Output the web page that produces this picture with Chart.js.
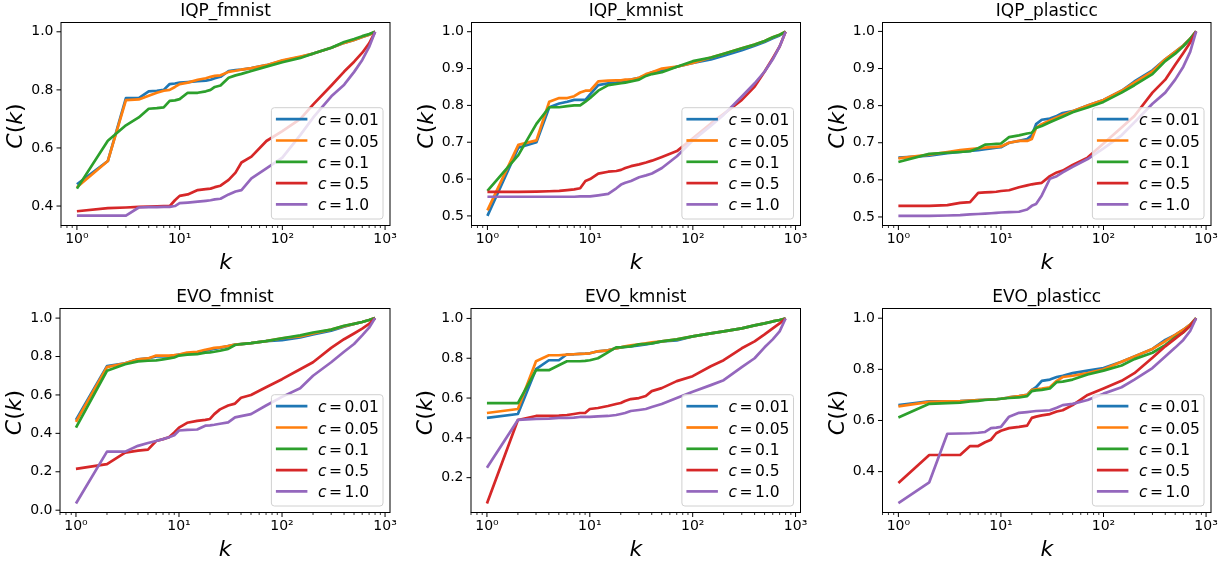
<!DOCTYPE html>
<html>
<head>
<meta charset="utf-8">
<script src="https://cdn.jsdelivr.net/npm/chart.js@4.4.0/dist/chart.umd.min.js"></script>
<style>
  html, body { margin: 0; padding: 0; background: #fff; }
  #wrap { position: relative; width: 1229px; height: 564px; }
  #wrap canvas { position: absolute; left: 0; top: 0; }
</style>
</head>
<body>
<div id="wrap"></div>
<script>
// k values where the curves are sampled
const K = [1, 2, 3, 4, 5, 6, 7, 8, 9, 10, 12, 15, 18, 20, 22, 25, 30, 35, 40, 50, 70, 100, 150, 200, 300, 400, 500, 600, 700, 800];
const C_VALUES = ['0.01', '0.05', '0.1', '0.5', '1.0'];
const TITLES = ['IQP_fmnist', 'IQP_kmnist', 'IQP_plasticc', 'EVO_fmnist', 'EVO_kmnist', 'EVO_plasticc'];

// IQP_fmnist
const IQP_FMNIST_001 = [0.475,0.555,0.772,0.772,0.795,0.797,0.800,0.820,0.822,0.825,0.827,0.830,0.832,0.835,0.840,0.845,0.865,0.868,0.870,0.875,0.885,0.900,0.913,0.925,0.945,0.962,0.972,0.982,0.990,1.000];
const IQP_FMNIST_005 = [0.465,0.555,0.765,0.767,0.780,0.790,0.797,0.800,0.810,0.820,0.825,0.835,0.840,0.845,0.848,0.850,0.862,0.866,0.870,0.875,0.885,0.902,0.915,0.925,0.945,0.962,0.972,0.982,0.990,1.000];
const IQP_FMNIST_01  = [0.460,0.625,0.678,0.705,0.735,0.737,0.740,0.762,0.764,0.768,0.790,0.790,0.795,0.800,0.810,0.815,0.842,0.850,0.855,0.865,0.880,0.895,0.910,0.925,0.945,0.965,0.975,0.985,0.992,1.000];
const IQP_FMNIST_05  = [0.382,0.393,0.395,0.397,0.398,0.399,0.400,0.400,0.420,0.435,0.440,0.455,0.458,0.460,0.465,0.470,0.490,0.515,0.550,0.570,0.624,0.658,0.700,0.750,0.815,0.863,0.897,0.928,0.960,1.000];
const IQP_FMNIST_10  = [0.367,0.367,0.367,0.395,0.396,0.396,0.397,0.397,0.400,0.410,0.412,0.415,0.418,0.420,0.423,0.425,0.440,0.450,0.455,0.495,0.530,0.567,0.645,0.705,0.778,0.818,0.862,0.903,0.948,1.000];

// IQP_kmnist
const IQP_KMNIST_001 = [0.500,0.685,0.700,0.795,0.805,0.810,0.815,0.815,0.815,0.830,0.855,0.860,0.862,0.865,0.867,0.870,0.875,0.882,0.890,0.895,0.905,0.915,0.925,0.935,0.950,0.962,0.972,0.982,0.990,1.000];
const IQP_KMNIST_005 = [0.515,0.693,0.705,0.810,0.820,0.820,0.825,0.835,0.840,0.840,0.865,0.867,0.868,0.868,0.870,0.870,0.875,0.885,0.890,0.900,0.905,0.915,0.930,0.940,0.955,0.965,0.975,0.985,0.992,1.000];
const IQP_KMNIST_01  = [0.568,0.665,0.750,0.795,0.795,0.798,0.800,0.800,0.810,0.820,0.840,0.855,0.858,0.860,0.862,0.865,0.870,0.880,0.885,0.890,0.905,0.920,0.930,0.940,0.955,0.965,0.975,0.985,0.992,1.000];
const IQP_KMNIST_05  = [0.565,0.565,0.566,0.567,0.568,0.570,0.572,0.575,0.595,0.600,0.615,0.620,0.622,0.625,0.630,0.635,0.640,0.645,0.650,0.660,0.676,0.711,0.751,0.777,0.815,0.851,0.892,0.928,0.960,1.000];
const IQP_KMNIST_10  = [0.552,0.552,0.552,0.552,0.552,0.552,0.552,0.553,0.553,0.553,0.556,0.560,0.575,0.585,0.590,0.595,0.605,0.610,0.615,0.630,0.662,0.705,0.745,0.775,0.824,0.860,0.892,0.925,0.960,1.000];

// IQP_plasticc
const IQP_PLASTICC_001 = [0.660,0.665,0.672,0.675,0.678,0.680,0.683,0.685,0.687,0.688,0.700,0.705,0.710,0.720,0.750,0.762,0.765,0.772,0.780,0.785,0.800,0.815,0.840,0.865,0.895,0.925,0.945,0.962,0.980,1.000];
const IQP_PLASTICC_005 = [0.658,0.668,0.675,0.680,0.683,0.685,0.687,0.688,0.689,0.690,0.700,0.705,0.705,0.710,0.740,0.750,0.760,0.768,0.775,0.785,0.800,0.815,0.840,0.862,0.892,0.925,0.945,0.962,0.980,1.000];
const IQP_PLASTICC_01  = [0.648,0.670,0.673,0.675,0.677,0.685,0.695,0.696,0.697,0.698,0.715,0.720,0.725,0.727,0.740,0.745,0.755,0.763,0.770,0.782,0.795,0.810,0.835,0.855,0.885,0.920,0.940,0.960,0.980,1.000];
const IQP_PLASTICC_05  = [0.530,0.530,0.532,0.538,0.540,0.565,0.566,0.567,0.568,0.570,0.572,0.580,0.585,0.588,0.590,0.592,0.610,0.620,0.625,0.640,0.660,0.698,0.741,0.772,0.835,0.870,0.910,0.942,0.970,1.000];
const IQP_PLASTICC_10  = [0.503,0.503,0.504,0.505,0.507,0.508,0.509,0.510,0.511,0.512,0.513,0.514,0.520,0.530,0.535,0.558,0.603,0.610,0.620,0.635,0.656,0.685,0.720,0.755,0.805,0.835,0.870,0.905,0.945,1.000];

// EVO_fmnist
const EVO_FMNIST_001 = [0.470,0.750,0.765,0.785,0.790,0.800,0.800,0.800,0.805,0.810,0.815,0.820,0.830,0.835,0.840,0.845,0.855,0.862,0.865,0.870,0.880,0.885,0.900,0.915,0.935,0.955,0.970,0.980,0.990,1.000];
const EVO_FMNIST_005 = [0.460,0.745,0.765,0.785,0.790,0.805,0.805,0.805,0.807,0.810,0.820,0.825,0.835,0.840,0.845,0.848,0.855,0.862,0.865,0.870,0.880,0.895,0.905,0.920,0.940,0.958,0.970,0.980,0.990,1.000];
const EVO_FMNIST_01  = [0.430,0.726,0.760,0.775,0.778,0.780,0.785,0.790,0.795,0.805,0.810,0.812,0.820,0.822,0.825,0.830,0.840,0.860,0.865,0.870,0.880,0.895,0.910,0.925,0.940,0.960,0.970,0.980,0.990,1.000];
const EVO_FMNIST_05  = [0.215,0.240,0.300,0.310,0.315,0.360,0.370,0.380,0.405,0.430,0.455,0.465,0.470,0.475,0.500,0.525,0.545,0.555,0.585,0.600,0.640,0.682,0.734,0.770,0.845,0.890,0.920,0.945,0.970,1.000];
const EVO_FMNIST_10  = [0.035,0.305,0.305,0.335,0.350,0.360,0.370,0.380,0.390,0.415,0.418,0.420,0.440,0.442,0.445,0.450,0.457,0.483,0.490,0.500,0.545,0.590,0.635,0.700,0.770,0.825,0.865,0.910,0.950,1.000];

// EVO_kmnist
const EVO_KMNIST_001 = [0.500,0.520,0.745,0.790,0.790,0.820,0.820,0.822,0.823,0.825,0.835,0.840,0.850,0.855,0.857,0.860,0.865,0.870,0.875,0.885,0.890,0.910,0.925,0.935,0.950,0.965,0.975,0.985,0.992,1.000];
const EVO_KMNIST_005 = [0.525,0.545,0.785,0.815,0.815,0.818,0.820,0.822,0.823,0.825,0.835,0.840,0.850,0.855,0.860,0.865,0.870,0.875,0.880,0.885,0.895,0.910,0.925,0.935,0.950,0.965,0.975,0.985,0.992,1.000];
const EVO_KMNIST_01  = [0.575,0.575,0.740,0.740,0.765,0.785,0.785,0.785,0.787,0.790,0.800,0.830,0.855,0.855,0.857,0.860,0.870,0.872,0.875,0.885,0.895,0.910,0.925,0.935,0.950,0.965,0.975,0.985,0.992,1.000];
const EVO_KMNIST_05  = [0.070,0.490,0.510,0.510,0.512,0.515,0.520,0.525,0.525,0.545,0.550,0.560,0.570,0.575,0.585,0.595,0.600,0.610,0.635,0.650,0.685,0.710,0.760,0.790,0.850,0.885,0.920,0.950,0.975,1.000];
const EVO_KMNIST_10  = [0.250,0.490,0.495,0.497,0.500,0.500,0.502,0.505,0.505,0.505,0.508,0.510,0.515,0.520,0.525,0.535,0.540,0.545,0.555,0.570,0.600,0.632,0.665,0.690,0.755,0.800,0.855,0.895,0.935,1.000];

// EVO_plasticc
const EVO_PLASTICC_001 = [0.660,0.675,0.675,0.676,0.678,0.680,0.681,0.682,0.683,0.685,0.690,0.695,0.700,0.720,0.730,0.755,0.760,0.770,0.775,0.785,0.795,0.805,0.830,0.850,0.880,0.915,0.935,0.955,0.975,1.000];
const EVO_PLASTICC_005 = [0.655,0.673,0.675,0.676,0.678,0.680,0.681,0.682,0.683,0.685,0.690,0.695,0.700,0.720,0.722,0.725,0.730,0.755,0.770,0.775,0.785,0.800,0.830,0.850,0.880,0.910,0.935,0.955,0.975,1.000];
const EVO_PLASTICC_01  = [0.612,0.665,0.668,0.670,0.675,0.677,0.680,0.682,0.683,0.685,0.688,0.690,0.695,0.715,0.718,0.720,0.725,0.750,0.752,0.760,0.780,0.795,0.815,0.840,0.865,0.895,0.925,0.945,0.970,1.000];
const EVO_PLASTICC_05  = [0.355,0.465,0.465,0.465,0.500,0.500,0.515,0.525,0.550,0.560,0.570,0.575,0.580,0.610,0.615,0.620,0.625,0.635,0.640,0.660,0.700,0.725,0.755,0.785,0.845,0.890,0.920,0.945,0.970,1.000];
const EVO_PLASTICC_10  = [0.277,0.358,0.548,0.549,0.550,0.552,0.555,0.570,0.572,0.575,0.615,0.630,0.633,0.635,0.637,0.638,0.640,0.650,0.660,0.665,0.680,0.705,0.730,0.760,0.805,0.850,0.885,0.915,0.950,1.000];

const SERIES = [
  [IQP_FMNIST_001, IQP_FMNIST_005, IQP_FMNIST_01, IQP_FMNIST_05, IQP_FMNIST_10],
  [IQP_KMNIST_001, IQP_KMNIST_005, IQP_KMNIST_01, IQP_KMNIST_05, IQP_KMNIST_10],
  [IQP_PLASTICC_001, IQP_PLASTICC_005, IQP_PLASTICC_01, IQP_PLASTICC_05, IQP_PLASTICC_10],
  [EVO_FMNIST_001, EVO_FMNIST_005, EVO_FMNIST_01, EVO_FMNIST_05, EVO_FMNIST_10],
  [EVO_KMNIST_001, EVO_KMNIST_005, EVO_KMNIST_01, EVO_KMNIST_05, EVO_KMNIST_10],
  [EVO_PLASTICC_001, EVO_PLASTICC_005, EVO_PLASTICC_01, EVO_PLASTICC_05, EVO_PLASTICC_10]
];

// axis ranges
const X_MIN = 0.716, X_MAX = 1117;
const Y_MIN = [0.333, 0.474, 0.477, -0.012, 0.025, 0.240];
const Y_MAX = [1.032, 1.025, 1.024, 1.050, 1.050, 1.038];
const Y_STEP = [0.2, 0.1, 0.1, 0.2, 0.2, 0.2];

// plot boxes on the page: left, top, right, bottom
const BOXES = [
  [61, 22.5, 390, 225.5], [471.5, 22.5, 800.5, 225.5], [882.5, 22.5, 1211, 225.5],
  [60, 308.5, 390, 512.5], [471, 308.5, 800.5, 512.5], [882.5, 308.5, 1211, 512.5]
];
const COLORS = ['#1f77b4', '#ff7f0e', '#2ca02c', '#d62728', '#9467bd'];
const W = 1229, H = 564, W_Y = 55, H_X = 40;
const FONT = "'DejaVu Sans', sans-serif";
const SUP = ['\u2070', '\u00b9', '\u00b2', '\u00b3'];

Chart.defaults.font.family = FONT;
Chart.defaults.color = '#000';

function logTicks(min, max) {
  const t = [];
  for (let e = -1; e <= 3; e++) {
    for (let m = 1; m <= 9; m++) {
      const v = m * Math.pow(10, e);
      if (v >= min && v <= max) t.push({ value: v, major: m === 1 });
    }
  }
  return t;
}

// draws frame, tick marks, titles, axis labels and legend
const decor = {
  id: 'decor',
  afterDraw(chart, args, opts) {
    const { ctx, chartArea: a, scales: { x, y } } = chart;
    ctx.save();
    ctx.strokeStyle = '#000';
    x.ticks.forEach(t => {
      const px = x.getPixelForValue(t.value);
      ctx.lineWidth = t.major ? 1 : 0.8;
      ctx.beginPath();
      ctx.moveTo(px, a.bottom);
      ctx.lineTo(px, a.bottom + (t.major ? 4.5 : 2.5));
      ctx.stroke();
    });
    ctx.lineWidth = 1;
    y.ticks.forEach(t => {
      const py = y.getPixelForValue(t.value);
      ctx.beginPath();
      ctx.moveTo(a.left, py);
      ctx.lineTo(a.left - 4.5, py);
      ctx.stroke();
    });
    ctx.strokeRect(a.left, a.top, a.right - a.left, a.bottom - a.top);

    // title
    ctx.fillStyle = '#000';
    ctx.textAlign = 'center';
    ctx.textBaseline = 'alphabetic';
    ctx.font = '17px ' + FONT;
    ctx.fillText(opts.title, (a.left + a.right) / 2, a.top - 6.5);

    // x label
    ctx.font = 'italic 22px ' + FONT;
    ctx.fillText('k', (a.left + a.right) / 2, a.bottom + 43);

    // y label C(k), rotated
    const parts = [['C', 'italic '], ['(', ''], ['k', 'italic '], [')', '']];
    const widths = parts.map(p => { ctx.font = p[1] + '22px ' + FONT; return ctx.measureText(p[0]).width; });
    const total = widths.reduce((s, v) => s + v, 0);
    ctx.save();
    ctx.translate(a.left - 39, (a.top + a.bottom) / 2 + 2);
    ctx.rotate(-Math.PI / 2);
    ctx.textAlign = 'left';
    let cx = -total / 2;
    parts.forEach((p, i) => {
      ctx.font = p[1] + '22px ' + FONT;
      ctx.fillText(p[0], cx, 0);
      cx += widths[i];
    });
    ctx.restore();

    // legend
    const lw = 111.6, lh = 111.3;
    const lx = a.right - 7 - lw, ly = a.bottom - 6.5 - lh;
    ctx.beginPath();
    ctx.roundRect(lx, ly, lw, lh, 3);
    ctx.fillStyle = 'rgba(255,255,255,0.8)';
    ctx.fill();
    ctx.strokeStyle = '#d0d0d0';
    ctx.lineWidth = 1;
    ctx.stroke();
    ctx.textAlign = 'left';
    chart.data.datasets.forEach((ds, i) => {
      const rowY = ly + 11.5 + i * 21.3;
      ctx.strokeStyle = ds.borderColor;
      ctx.lineWidth = 2.7;
      ctx.beginPath();
      ctx.moveTo(lx + 4.5, rowY);
      ctx.lineTo(lx + 36, rowY);
      ctx.stroke();
      ctx.fillStyle = '#000';
      ctx.font = 'italic 15.5px ' + FONT;
      ctx.fillText('c', lx + 46.5, rowY + 6);
      ctx.font = '15.5px ' + FONT;
      ctx.fillText('=', lx + 57.5, rowY + 6);
      ctx.fillText(ds.cValue, lx + 73, rowY + 6);
    });
    ctx.restore();
  }
};

const wrap = document.getElementById('wrap');
SERIES.forEach((series, p) => {
  const canvas = document.createElement('canvas');
  canvas.width = W;
  canvas.height = H;
  wrap.appendChild(canvas);
  const [L, T, R, B] = BOXES[p];
  new Chart(canvas, {
    type: 'line',
    data: {
      datasets: series.map((vals, i) => ({
        label: 'c = ' + C_VALUES[i],
        cValue: C_VALUES[i],
        data: K.map((k, j) => ({ x: k, y: vals[j] })),
        borderColor: COLORS[i],
        backgroundColor: COLORS[i],
        borderWidth: 2.7,
        pointRadius: 0,
        tension: 0,
        borderJoinStyle: 'round',
        order: 5 - i
      }))
    },
    options: {
      responsive: false,
      animation: false,
      events: [],
      layout: { padding: { left: L - W_Y, top: T, right: W - R, bottom: H - B - H_X } },
      plugins: { legend: { display: false }, tooltip: { enabled: false }, decor: { title: TITLES[p] } },
      scales: {
        x: {
          type: 'logarithmic',
          min: X_MIN,
          max: X_MAX,
          grid: { display: false, drawTicks: false },
          border: { display: false },
          afterBuildTicks: s => { s.ticks = logTicks(s.min, s.max); },
          afterFit: s => { s.height = H_X; },
          ticks: {
            autoSkip: false, maxRotation: 0, minRotation: 0, padding: 5,
            font: { size: 14 }, color: '#000',
            callback: (v, i, ticks) => ticks[i].major ? '10' + SUP[Math.round(Math.log10(v))] : ''
          }
        },
        y: {
          type: 'linear',
          min: Y_MIN[p],
          max: Y_MAX[p],
          grid: { display: false, drawTicks: false },
          border: { display: false },
          afterFit: s => { s.width = W_Y; },
          ticks: {
            stepSize: Y_STEP[p], includeBounds: false, padding: 7.5,
            font: { size: 14 }, color: '#000',
            callback: v => v.toFixed(1)
          }
        }
      }
    },
    plugins: [decor]
  });
});
</script>
</body>
</html>
